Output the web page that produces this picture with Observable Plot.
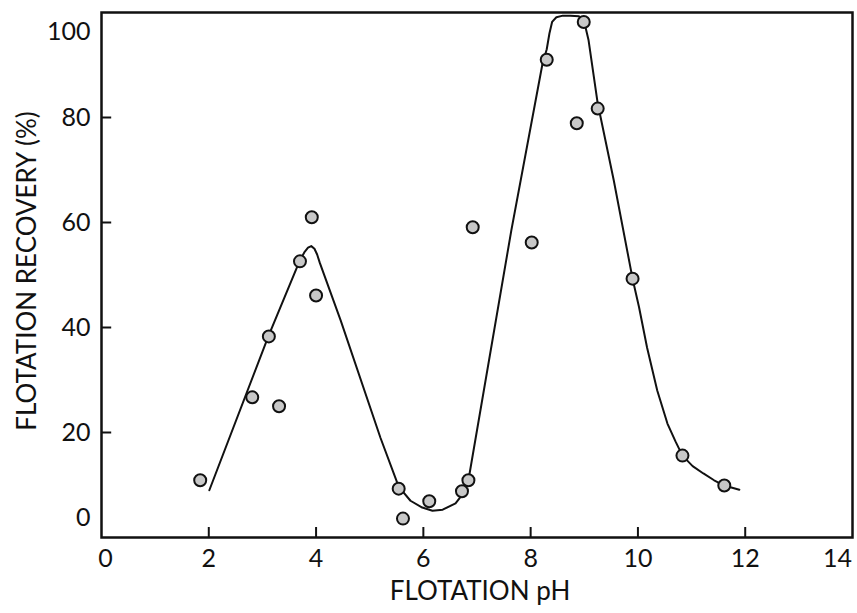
<!DOCTYPE html>
<html>
<head>
<meta charset="utf-8">
<script src="https://cdn.jsdelivr.net/npm/d3@7"></script>
<script src="https://cdn.jsdelivr.net/npm/@observablehq/plot@0.6"></script>
<style>
  html, body { margin: 0; padding: 0; background: #fff; }
</style>
</head>
<body>
<div id="chart"></div>
<script>
// Measured points: flotation pH vs recovery (%)
const pointPH = [1.84, 2.81, 3.12, 3.31, 3.70, 3.92, 4.00, 5.54, 5.62, 6.11, 6.72, 6.84, 6.92, 8.02, 8.30, 8.86, 8.99, 9.25, 9.90, 10.83, 11.61];
const pointRec = [10.9, 26.7, 38.3, 25.0, 52.6, 61.0, 46.1, 9.3, 3.6, 6.9, 8.8, 10.9, 59.1, 56.2, 91.0, 78.9, 98.2, 81.7, 49.3, 15.6, 9.9];

// Fitted curve
const curvePH = [2.01, 3.11, 3.69, 3.78, 3.85, 3.91, 3.97, 4.02, 4.07, 4.46, 5.20, 5.54, 5.76, 5.98, 6.17, 6.36, 6.60, 6.73, 6.84, 7.64, 8.22, 8.30, 8.35, 8.40, 8.48, 8.60, 8.74, 8.90, 8.99, 9.08, 9.25, 9.55, 9.90, 10.02, 10.17, 10.36, 10.55, 10.70, 10.83, 11.02, 11.22, 11.42, 11.61, 11.89];
const curveRec = [9.0, 38.3, 52.6, 54.3, 55.2, 55.5, 55.0, 53.9, 52.3, 41.3, 19.0, 9.7, 7.0, 5.7, 5.1, 5.3, 6.5, 8.2, 10.9, 58.5, 90.2, 93.0, 96.0, 98.2, 99.1, 99.4, 99.4, 99.3, 98.6, 94.7, 82.7, 68.0, 49.3, 43.9, 36.2, 28.0, 21.7, 18.3, 15.6, 13.6, 12.2, 10.9, 9.9, 9.1];

const xTicks = [0, 2, 4, 6, 8, 10, 12, 14];
const yTicks = [0, 20, 40, 60, 80, 100];
const xTitle = "FLOTATION pH";
const yTitle = "FLOTATION RECOVERY (%)";

const points = pointPH.map((x, i) => ({x, y: pointRec[i]}));
const curve = curvePH.map((x, i) => ({x, y: curveRec[i]}));

const FONT = "Lato, 'Open Sans', sans-serif";
const FS = 25;
const FT = 26;
const innerX = xTicks.filter(t => t > xTicks[0] && t < xTicks[xTicks.length - 1]);
const innerY = yTicks.filter(t => t > yTicks[0] && t < yTicks[yTicks.length - 1]);

const chart = Plot.plot({
  width: 857,
  height: 613,
  marginLeft: 101,
  marginRight: 5,
  marginTop: 12,
  marginBottom: 76,
  style: {fontFamily: FONT, fontSize: FS + "px", color: "#111", background: "#fff"},
  x: {domain: [0, 14]},
  y: {domain: [0, 100]},
  marks: [
    // inward tick marks (10px long)
    Plot.ruleX(innerX, {x: d => d, y1: 0, y2: 1.9, stroke: "#111", strokeWidth: 2}),
    Plot.ruleY(innerY, {y: d => d, x1: 0, x2: 0.19, stroke: "#111", strokeWidth: 2}),
    // tick labels
    Plot.axisX(xTicks.slice(1, -1), {tickSize: 0, tickPadding: 12, fontSize: FS, label: null}),
    Plot.axisX([xTicks[0]], {tickSize: 0, tickPadding: 12, dx: 4, fontSize: FS, label: null}),
    Plot.axisX([xTicks[xTicks.length - 1]], {tickSize: 0, tickPadding: 12, dx: -15, fontSize: FS, label: null}),
    Plot.axisY(innerY, {tickSize: 0, tickPadding: 11, fontSize: FS, label: null}),
    Plot.axisY([yTicks[0]], {tickSize: 0, tickPadding: 11, dy: -20, fontSize: FS, label: null}),
    Plot.axisY([yTicks[yTicks.length - 1]], {tickSize: 0, tickPadding: 11, dy: 19, fontSize: FS, label: null}),
    // axis titles
    Plot.text([xTitle], {frameAnchor: "bottom", dy: 62, dx: 3, fontSize: FT, fill: "#111"}),
    Plot.text([yTitle], {frameAnchor: "left", textAnchor: "middle", rotate: -90, dx: -74, dy: -4, fontSize: FT, fill: "#111"}),
    // frame
    Plot.frame({stroke: "#111", strokeWidth: 2.5}),
    // curve
    Plot.line(curve, {x: "x", y: "y", curve: "linear", stroke: "#111", strokeWidth: 2, strokeLinejoin: "round"}),
    // points
    Plot.dot(points, {x: "x", y: "y", r: 6, fill: "#c8c8c8", stroke: "#111", strokeWidth: 2})
  ]
});
document.getElementById("chart").appendChild(chart);
</script>
</body>
</html>
